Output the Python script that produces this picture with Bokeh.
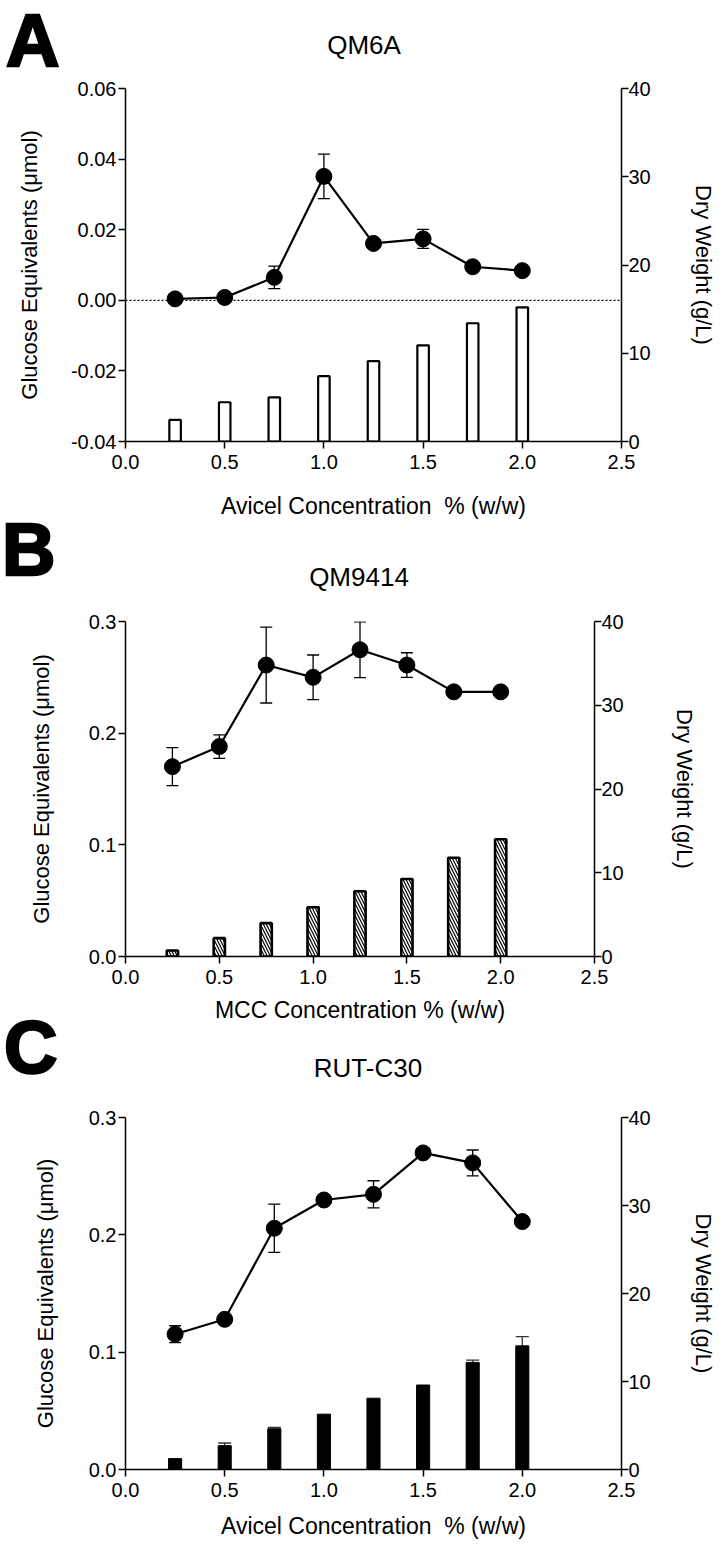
from bokeh.plotting import figure
from bokeh.models import (Range1d, LinearAxis, FixedTicker, PrintfTickFormatter,
                          Whisker, TeeHead, ColumnDataSource, Span, Div)
from bokeh.layouts import column
from bokeh.embed import file_html
from bokeh.resources import INLINE

# ---------------- data ----------------
conc = [0.25, 0.5, 0.75, 1.0, 1.25, 1.5, 1.75, 2.0]
x_ticks = [0.0, 0.5, 1.0, 1.5, 2.0, 2.5]
dw_ticks = [0, 10, 20, 30, 40]

# Panel A  QM6A (Avicel)
qm6a_glucose = [0.0004, 0.0008, 0.0065, 0.0351, 0.0161, 0.0174, 0.0095, 0.0084]
qm6a_glucose_err = [0, 0, 0.0032, 0.0063, 0, 0.0027, 0, 0]
qm6a_dry = [2.45, 4.45, 5.0, 7.4, 9.1, 10.9, 13.4, 15.2]
qm6a_ticks = [-0.04, -0.02, 0.0, 0.02, 0.04, 0.06]

# Panel B  QM9414 (MCC)
qm9414_glucose = [0.170, 0.188, 0.261, 0.250, 0.2747, 0.261, 0.237, 0.237]
qm9414_glucose_err = [0.017, 0.0105, 0.034, 0.020, 0.025, 0.011, 0, 0]
qm9414_dry = [0.72, 2.19, 3.98, 5.88, 7.79, 9.26, 11.8, 14.0]

# Panel C  RUT-C30 (Avicel)
rut_glucose = [0.1153, 0.128, 0.2056, 0.2297, 0.2345, 0.2698, 0.2613, 0.2113]
rut_glucose_err = [0.0072, 0, 0.0205, 0, 0.0116, 0, 0.011, 0]
rut_dry = [1.24, 2.71, 4.63, 6.29, 8.1, 9.6, 12.17, 14.05]
rut_dry_err = [0, 0.3, 0.15, 0, 0, 0, 0.25, 1.05]
gl_ticks_bc = [0.0, 0.1, 0.2, 0.3]

FONT = "Liberation Sans"


def style_axis(ax, ticks, fmt, standoff, label_standoff, label):
    ax.ticker = FixedTicker(ticks=ticks)
    ax.formatter = PrintfTickFormatter(format=fmt)
    ax.major_tick_in = 0
    ax.major_tick_out = 7
    ax.minor_tick_in = 0
    ax.minor_tick_out = 0
    ax.axis_line_width = 1.5
    ax.axis_line_color = "black"
    ax.major_tick_line_width = 1.5
    ax.major_tick_line_color = "black"
    ax.major_label_text_font = FONT
    ax.major_label_text_font_size = "20px"
    ax.major_label_text_color = "black"
    ax.major_label_standoff = standoff
    ax.axis_label = label
    ax.axis_label_text_font = FONT
    ax.axis_label_text_font_size = "22px"
    ax.axis_label_text_font_style = "normal"
    ax.axis_label_text_color = "black"
    ax.axis_label_standoff = label_standoff


def header(h, letter, lpos, title, tpos):
    html = (
        f'<div style="position:relative;width:710px;height:{h}px;">'
        f'<span style="position:absolute;left:{lpos[0]}px;top:{lpos[1]}px;'
        f"font-family:'Liberation Sans';font-weight:bold;font-size:74px;line-height:54px;"
        f'-webkit-text-stroke:2.5px black;color:black;white-space:nowrap;">{letter}</span>'
        f'<span style="position:absolute;left:{tpos[0]}px;top:{tpos[1]}px;'
        f"transform:translate(-50%,-50%);font-family:'Liberation Sans';font-size:26px;"
        f'line-height:1;color:black;white-space:nowrap;">{title}</span>'
        f'</div>'
    )
    return Div(text=html, width=710, height=h, margin=0, styles={"overflow": "visible"})


def make_panel(fw, fh, borders, yr, yticks, yfmt, glucose, gerr, dry, derr,
               bar_style, xlabel, standoffs, zero_line=False):
    left, right, top, bottom = borders
    p = figure(frame_width=fw, frame_height=fh, output_backend="svg", toolbar_location=None,
               x_range=Range1d(0, 2.5), y_range=Range1d(*yr),
               min_border_left=left, min_border_right=right,
               min_border_top=top, min_border_bottom=bottom, margin=0)
    p.extra_y_ranges = {"dw": Range1d(0, 40)}
    p.xgrid.visible = False
    p.ygrid.visible = False
    p.outline_line_color = None
    p.background_fill_color = "white"
    p.border_fill_color = "white"

    ls, bs, rs = standoffs
    style_axis(p.xaxis[0], x_ticks, "%.1f", 6, bs, xlabel)
    p.xaxis[0].axis_label_text_font_size = "23px"
    style_axis(p.yaxis[0], yticks, yfmt, 2, ls, "Glucose Equivalents (\u03bcmol)")
    rax = LinearAxis(y_range_name="dw")
    style_axis(rax, dw_ticks, "%d", 0, rs, "Dry Weight (g/L)")
    p.add_layout(rax, "right")

    if zero_line:
        p.add_layout(Span(location=0, dimension="width", line_color="black",
                          line_width=1.2, line_dash="2 2"))

    # bars (dry weight, right axis)
    bsrc = ColumnDataSource(dict(x=conc, top=dry))
    if bar_style == "open":
        p.vbar(x="x", top="top", width=0.058, bottom=0, source=bsrc, y_range_name="dw",
               fill_color="white", line_color="black", line_width=2.2)
    elif bar_style == "hatch":
        p.vbar(x="x", top="top", width=0.06, bottom=0, source=bsrc, y_range_name="dw",
               fill_color="white", line_color="black", line_width=2.6,
               hatch_pattern="\\", hatch_color="black", hatch_scale=6, hatch_weight=1.2)
    else:
        p.vbar(x="x", top="top", width=0.066, bottom=0, source=bsrc, y_range_name="dw",
               fill_color="black", line_color="black", line_width=1)

    if derr is not None:
        xs = [c for c, e in zip(conc, derr) if e > 0]
        up = [d + e for d, e in zip(dry, derr) if e > 0]
        lo = [d - e for d, e in zip(dry, derr) if e > 0]
        dsrc = ColumnDataSource(dict(x=xs, up=up, lo=lo))
        p.add_layout(Whisker(base="x", upper="up", lower="lo", source=dsrc,
                             y_range_name="dw", line_color="#333333", line_width=1.3,
                             upper_head=TeeHead(size=13, line_width=1.3, line_color="#333333"),
                             lower_head=TeeHead(size=13, line_width=1.3, line_color="#333333")))

    # glucose line
    p.line(conc, glucose, line_color="black", line_width=2.2)
    xs = [c for c, e in zip(conc, gerr) if e > 0]
    up = [g + e for g, e in zip(glucose, gerr) if e > 0]
    lo = [g - e for g, e in zip(glucose, gerr) if e > 0]
    gsrc = ColumnDataSource(dict(x=xs, up=up, lo=lo))
    p.add_layout(Whisker(base="x", upper="up", lower="lo", source=gsrc,
                         line_color="black", line_width=1.3,
                         upper_head=TeeHead(size=12, line_width=1.3),
                         lower_head=TeeHead(size=12, line_width=1.3)))
    p.scatter(conc, glucose, size=16, marker="circle", fill_color="black", line_color="black")
    return p


hA = header(68, "A", (6, 14), "QM6A", (364, 45))
pA = make_panel(496, 353, (119, 100, 20, 80), (-0.04, 0.06), qm6a_ticks, "%.2f",
                qm6a_glucose, qm6a_glucose_err, qm6a_dry, None, "open",
                "Avicel Concentration\u00a0 % (w/w)", (26, 21, 37), zero_line=True)
hB = header(79, "B", (2, 2), "QM9414", (359, 56))
pB = make_panel(469, 335, (125, 116, 21, 68), (0.0, 0.3), gl_ticks_bc, "%.1f",
                qm9414_glucose, qm9414_glucose_err, qm9414_dry, None, "hatch",
                "MCC Concentration % (w/w)", (32, 10, 45))
hC = header(70, "C", (4, -4), "RUT-C30", (368, 43))
pC = make_panel(496, 352, (119, 100, 22, 70), (0.0, 0.3), gl_ticks_bc, "%.1f",
                rut_glucose, rut_glucose_err, rut_dry, rut_dry_err, "solid",
                "Avicel Concentration\u00a0 % (w/w)", (28, 13, 37))

layout = column(hA, pA, hB, pB, hC, pC, spacing=0)
open("out.html", "w").write(file_html(layout, INLINE))
